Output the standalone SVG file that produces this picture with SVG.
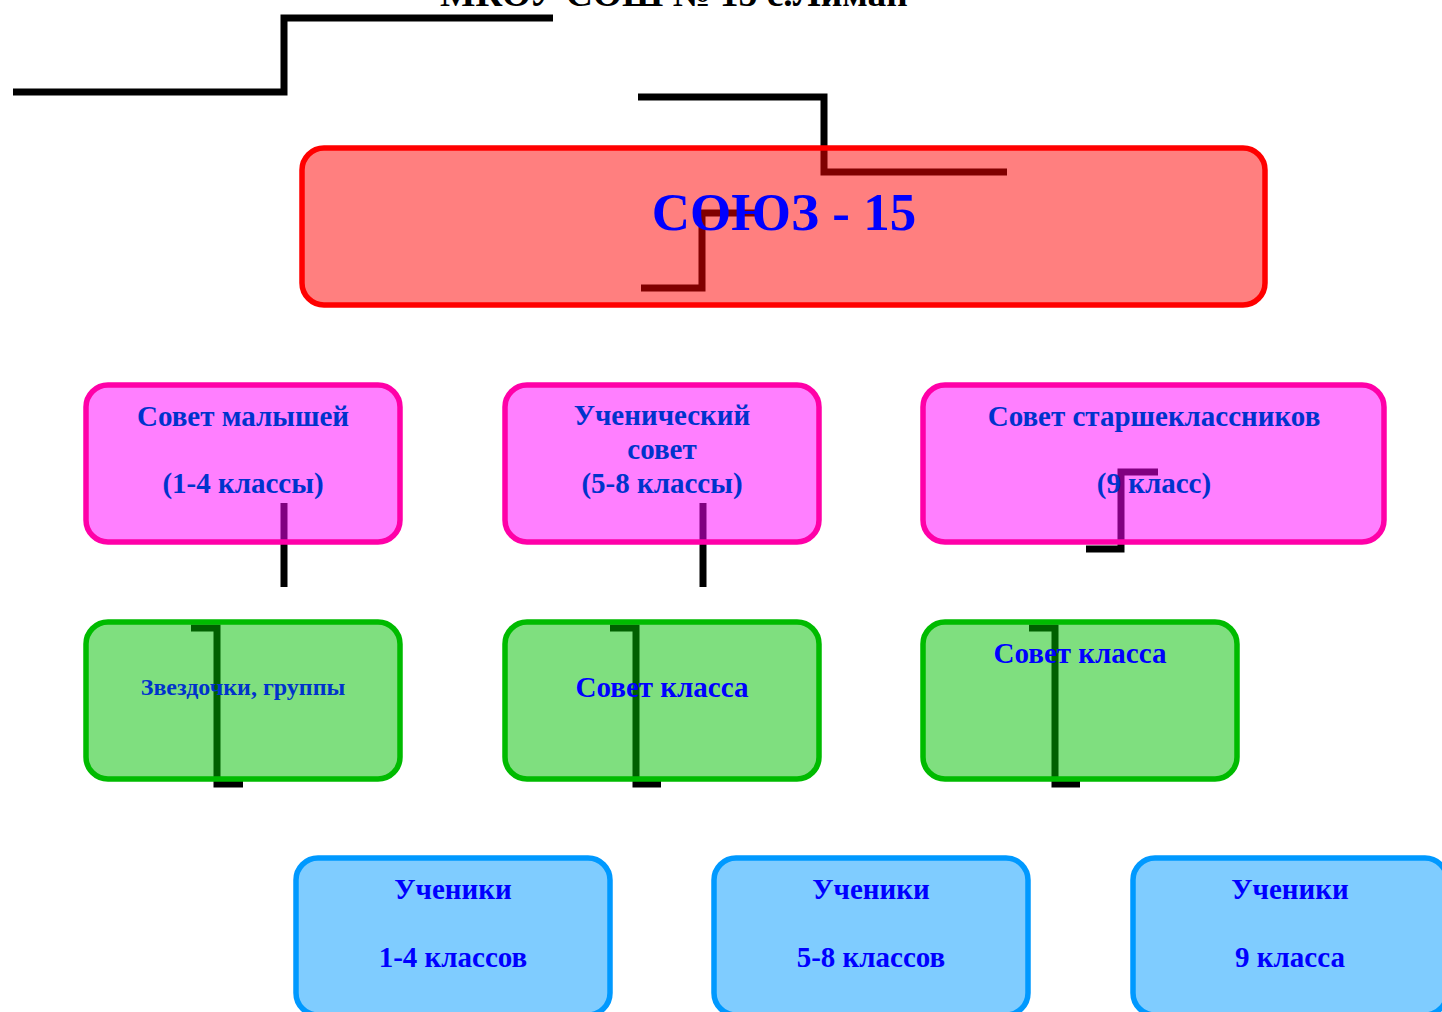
<svg xmlns="http://www.w3.org/2000/svg" width="1442" height="1012" viewBox="0 0 1442 1012">
<style>
.c{fill:none;stroke:#000;stroke-width:7;stroke-linejoin:miter}
.bx{stroke-width:5.5}
.red{fill:#ff0000;fill-opacity:0.5;stroke:#ff0000}
.pink{fill:#ff00ff;fill-opacity:0.5;stroke:#ff00a8}
.green{fill:#00c000;fill-opacity:0.5;stroke:#00bb00}
.blue{fill:#0099ff;fill-opacity:0.5;stroke:#0099ff}
text{font-family:"Liberation Serif","Times New Roman",serif;font-weight:bold;text-anchor:middle}
.t1{fill:#0033cc;font-size:29px}
.t2{fill:#0000ff;font-size:29px}
</style>
<rect width="1442" height="1012" fill="#fff"/>
<text x="674" y="6" style="font-size:36px;fill:#000" textLength="468" lengthAdjust="spacingAndGlyphs">МКОУ СОШ № 15 с.Лиман</text>
<g id="connectors">
<polyline class="c" points="13,92 284,92 284,18 553,18"/>
<polyline class="c" points="638,97 824,97 824,172 1007,172"/>
<polyline class="c" points="641,288 702,288 702,213 763,213"/>
<line class="c" x1="284" y1="503" x2="284" y2="587"/>
<line class="c" x1="703" y1="503" x2="703" y2="587"/>
<polyline class="c" points="1158,472 1121,472 1121,549 1086,549"/>
<polyline class="c" points="191,628 217,628 217,784 243,784"/>
<polyline class="c" points="610,628 636,628 636,784 661,784"/>
<polyline class="c" points="1029,628 1055,628 1055,784 1080,784"/>
</g>
<g id="soyuz">
<rect class="bx red" x="302" y="148" width="963" height="157" rx="22"/>
<text x="784" y="230" style="font-size:53px;fill:#0000ff">СОЮЗ - 15</text>
</g>
<g id="sovet-malyshey">
<rect class="bx pink" x="86" y="385" width="314" height="157" rx="22"/>
<text class="t1" x="243" y="426">Совет малышей</text>
<text class="t1" x="243" y="493">(1-4 классы)</text>
</g>
<g id="uchenicheskiy-sovet">
<rect class="bx pink" x="505" y="385" width="314" height="157" rx="22"/>
<text class="t1" x="662" y="425">Ученический</text>
<text class="t1" x="662" y="459">совет</text>
<text class="t1" x="662" y="493">(5-8 классы)</text>
</g>
<g id="sovet-starsheklassnikov">
<rect class="bx pink" x="923" y="385" width="461" height="157" rx="22"/>
<text class="t1" x="1154" y="426">Совет старшеклассников</text>
<text class="t1" x="1154" y="493">(9 класс)</text>
</g>
<g id="zvezdochki">
<rect class="bx green" x="86" y="622" width="314" height="157" rx="22"/>
<text x="243" y="695" style="font-size:24px;fill:#0033cc">Звездочки, группы</text>
</g>
<g id="sovet-klassa-1">
<rect class="bx green" x="505" y="622" width="314" height="157" rx="22"/>
<text x="662" y="697" style="font-size:29px;fill:#0000ff">Совет класса</text>
</g>
<g id="sovet-klassa-2">
<rect class="bx green" x="923" y="622" width="314" height="157" rx="22"/>
<text x="1080" y="663" style="font-size:29px;fill:#0000ff">Совет класса</text>
</g>
<g id="ucheniki-1-4">
<rect class="bx blue" x="296" y="858" width="314" height="157" rx="22"/>
<text class="t2" x="453" y="899">Ученики</text>
<text class="t2" x="453" y="967">1-4 классов</text>
</g>
<g id="ucheniki-5-8">
<rect class="bx blue" x="714" y="858" width="314" height="157" rx="22"/>
<text class="t2" x="871" y="899">Ученики</text>
<text class="t2" x="871" y="967">5-8 классов</text>
</g>
<g id="ucheniki-9">
<rect class="bx blue" x="1133" y="858" width="314" height="157" rx="22"/>
<text class="t2" x="1290" y="899">Ученики</text>
<text class="t2" x="1290" y="967">9 класса</text>
</g>
</svg>
